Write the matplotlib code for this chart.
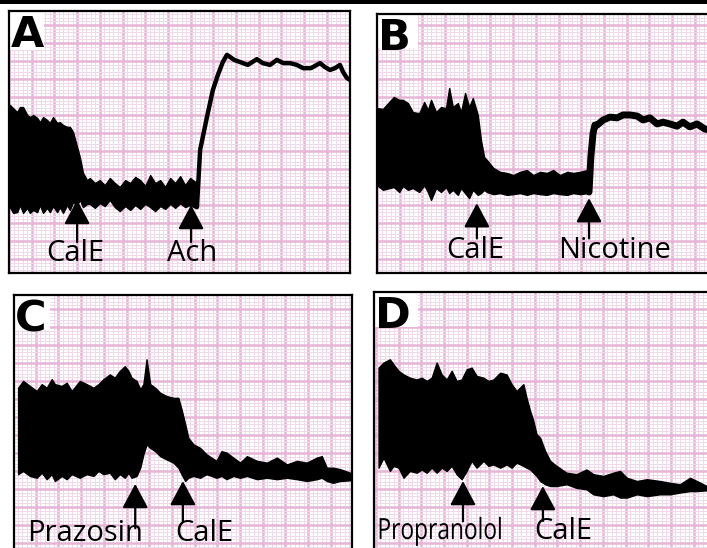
import matplotlib.pyplot as plt
from matplotlib.patches import Rectangle, PathPatch
from matplotlib.textpath import TextPath
from matplotlib.font_manager import FontProperties
from matplotlib.transforms import Affine2D
import numpy as np

# all trace values are in chart-paper millimetres (1 small square)

# panel A: CalE then acetylcholine
a_x = [0.2, 0.9, 1.8, 2.4, 3.1, 4.0, 4.6, 5.3, 6.2, 6.8, 7.5, 8.4, 9.0, 9.7, 10.6,
       11.2, 11.9, 12.8, 13.4, 14.1, 15.0, 15.6, 16.3, 17.2, 17.8, 18.9, 20.0, 21.1,
       22.2, 23.3, 24.4, 25.6, 26.7, 27.8, 28.9, 30.0, 31.1, 32.2, 33.3, 34.4, 35.5,
       36.6, 37.7, 38.8, 39.9, 41.0, 41.4]
a_top = [46.7, 45.8, 44.7, 46.1, 46.1, 43.9, 43.3, 43.9, 43.1, 41.9, 43.3, 42.5, 41.7,
         43.3, 41.7, 41.9, 41.1, 40.6, 40.6, 39.2, 35.0, 32.2, 27.8, 25.8, 26.4, 25.0,
         25.8, 24.4, 26.4, 25.0, 23.9, 25.8, 25.0, 26.7, 25.8, 24.2, 27.2, 25.0, 25.8,
         23.9, 26.4, 25.0, 26.9, 24.4, 26.4, 25.3, 25.8]
a_bot = [18.3, 16.7, 16.9, 18.9, 16.7, 18.1, 16.7, 17.5, 16.9, 18.9, 16.7, 18.1, 16.9,
         18.6, 16.9, 18.3, 16.7, 18.9, 17.5, 19.7, 18.9, 20.3, 18.3, 19.2, 19.2, 18.1,
         19.4, 18.6, 20.3, 18.3, 17.2, 18.6, 17.5, 18.9, 17.8, 19.2, 18.3, 17.2, 18.6,
         17.8, 19.2, 18.1, 19.4, 18.3, 18.9, 18.1, 18.9]
a_resp_x = [41.4, 42.1, 43.6, 44.9, 46.0, 47.1, 48.0, 48.7, 49.6, 50.9, 52.6, 54.6, 55.9,
            57.5, 59.0, 60.4, 61.9, 63.4, 64.8, 66.5, 68.5, 69.6, 70.7, 71.8, 72.9, 73.6,
            74.4, 75.1]
a_resp_y = [18.3, 34.2, 43.3, 50.8, 55.0, 58.6, 60.6, 60.0, 59.2, 58.6, 57.8, 59.4, 58.3,
            57.8, 59.2, 58.3, 58.3, 57.8, 56.9, 56.9, 58.3, 57.2, 56.4, 56.9, 57.8, 55.8,
            54.2, 53.6]
a_events = [15.0, 40.1]
a_names = ['CalE', 'Ach']

# panel B: CalE then nicotine
b_x = [0.0, 1.3, 3.7, 4.9, 5.7, 6.8, 7.9, 9.3, 10.4, 11.2, 11.9, 13.0, 14.1, 15.2, 15.9,
       16.7, 17.8, 18.5, 19.4, 20.3, 21.1, 22.2, 22.9, 23.6, 24.2, 25.6, 27.1, 28.6,
       30.0, 31.5, 33.0, 34.4, 35.9, 37.4, 38.8, 40.3, 41.9, 43.2, 44.7, 46.3, 46.7]
b_top = [45.8, 45.6, 48.9, 48.1, 48.1, 47.2, 44.7, 44.4, 47.5, 45.3, 48.1, 44.7, 46.1,
         45.8, 51.4, 46.1, 47.2, 44.7, 50.0, 46.1, 48.6, 43.9, 36.9, 32.2, 31.4, 29.2,
         28.1, 27.8, 27.2, 28.1, 28.6, 27.2, 28.1, 27.8, 28.6, 27.2, 28.1, 27.8, 28.1,
         28.6, 29.2]
b_bot = [24.4, 23.1, 23.9, 22.5, 24.2, 23.1, 23.6, 22.5, 24.4, 22.5, 20.3, 23.6, 22.5,
         23.9, 22.2, 23.1, 21.7, 23.6, 22.2, 20.8, 23.1, 21.7, 22.2, 23.1, 22.5, 21.9,
         22.2, 21.7, 21.9, 22.2, 21.7, 22.2, 21.9, 21.7, 22.2, 21.9, 21.7, 22.2, 21.9,
         22.2, 22.5]
b_resp_x = [46.7, 47.1, 47.6, 48.0, 48.5, 49.8, 51.3, 52.9, 54.2, 55.7, 57.3, 58.6, 60.1,
            61.7, 63.0, 64.5, 66.1, 67.4, 68.9, 70.5, 72.2, 73.3]
b_resp_y = [22.5, 32.2, 38.9, 41.1, 41.1, 42.5, 43.3, 43.1, 43.9, 43.9, 43.6, 42.5, 43.1,
            41.4, 41.9, 41.4, 40.8, 41.9, 40.6, 41.4, 40.0, 39.7]
b_events = [22.0, 46.7]
b_names = ['CalE', 'Nicotine']

# panel C: prazosin then CalE
c_x = [0.9, 2.0, 3.5, 5.0, 6.1, 7.2, 8.3, 9.0, 10.5, 11.6, 12.7, 14.5, 16.0, 17.5, 18.6,
       19.7, 21.1, 22.2, 23.3, 24.4, 25.2, 25.9, 27.0, 27.8, 28.5, 29.2, 30.0, 31.1,
       32.2, 33.6, 35.1, 36.2, 36.9, 37.7, 38.4, 39.5, 41.0, 42.4, 44.6, 45.7, 46.8,
       48.3, 49.8, 51.3, 53.5, 55.7, 57.9, 60.1, 62.3, 64.5, 66.7, 67.8, 68.9, 70.3,
       71.8, 74.0]
c_top = [45.9, 47.8, 46.4, 45.0, 46.9, 45.9, 48.3, 46.9, 46.4, 47.3, 45.0, 47.8, 46.9,
         45.9, 46.9, 48.3, 49.6, 48.7, 50.6, 51.9, 50.6, 48.7, 47.8, 45.5, 46.9, 53.8,
         46.9, 45.9, 44.5, 43.6, 43.1, 43.1, 39.9, 35.8, 32.0, 30.2, 29.2, 27.4, 25.6,
         28.3, 27.9, 26.5, 25.1, 26.9, 25.6, 25.1, 26.5, 24.6, 25.6, 25.1, 26.5, 26.9,
         23.7, 23.7, 23.3, 22.3]
c_bot = [21.9, 22.8, 21.4, 20.9, 22.3, 20.5, 21.9, 20.0, 21.4, 20.5, 21.9, 20.9, 21.9,
         21.4, 22.8, 21.9, 22.3, 20.5, 21.9, 20.9, 22.3, 20.9, 21.4, 23.7, 27.4, 30.2,
         29.2, 28.3, 26.9, 26.0, 25.1, 23.7, 21.9, 20.0, 20.9, 21.4, 20.9, 21.9, 20.9,
         21.4, 20.5, 21.4, 20.9, 21.4, 20.5, 20.9, 20.5, 20.9, 20.5, 20.0, 20.5, 20.9,
         20.0, 19.5, 20.0, 20.2]
c_events = [26.7, 37.2]
c_names = ['Prazosin', 'CalE']

# panel D: propranolol then CalE
d_x = [1.0, 2.1, 3.5, 4.3, 5.4, 6.5, 7.9, 9.4, 10.5, 11.6, 12.7, 13.8, 14.9, 16.0, 17.1,
       18.2, 19.3, 20.4, 21.5, 22.6, 24.1, 25.2, 26.3, 27.8, 29.2, 30.3, 31.4, 32.9,
       33.6, 34.4, 35.1, 35.8, 36.6, 37.7, 38.8, 40.2, 42.4, 44.6, 46.8, 48.3, 50.5,
       52.7, 54.2, 55.7, 57.9, 60.1, 63.0, 65.2, 67.4, 69.6, 71.1, 73.3]
d_top = [51.5, 52.9, 53.8, 52.4, 50.6, 49.6, 48.7, 48.2, 48.7, 47.8, 48.7, 52.9, 49.6,
         48.2, 50.6, 47.8, 48.2, 51.0, 51.5, 49.2, 48.7, 47.8, 48.2, 50.1, 49.6, 46.9,
         45.0, 46.9, 43.1, 39.4, 36.7, 33.0, 32.0, 28.3, 25.6, 24.2, 22.3, 21.9, 23.2,
         21.9, 21.4, 22.3, 22.8, 20.9, 20.0, 20.5, 20.0, 19.5, 19.1, 20.9, 20.0, 18.6]
d_bot = [23.7, 26.5, 22.8, 24.2, 23.7, 20.9, 22.8, 22.3, 23.2, 22.3, 23.7, 22.3, 23.7,
         22.8, 24.2, 21.9, 20.5, 22.8, 25.6, 23.7, 25.6, 24.2, 24.6, 23.7, 24.6, 23.7,
         25.1, 24.2, 23.7, 23.2, 22.3, 21.4, 20.0, 19.1, 18.6, 18.6, 19.1, 18.1, 17.7,
         16.3, 15.8, 16.3, 15.4, 15.4, 16.3, 15.8, 16.3, 16.3, 16.8, 17.2, 17.2, 17.4]
d_events = [19.6, 37.2]
d_names = ['Propranolol', 'CalE']

W, H = 707, 548
major_c = '#e6b5d7'
minor_c = '#f0d9ea'
font = ['Open Sans', 'DejaVu Sans']

panels = [
    # letter, pixel box (l, t, r, b), grid phase, traces, response, events, layout
    dict(letter='A', box=(9, 11, 350, 273), phase=(0.0, 3.9), lbox=(35, 39),
         x=a_x, top=a_top, bot=a_bot, rx=a_resp_x, ry=a_resp_y, rlw=3.2,
         ev=a_events, names=a_names, tips=[20.3, 18.9], tails=[8.6, 8.6],
         lx=[14.5, 40.3], ly=3.3),
    dict(letter='B', box=(377, 14, 712, 273), phase=(0.0, 3.9), lbox=(41, 34),
         x=b_x, top=b_top, bot=b_bot, rx=b_resp_x, ry=b_resp_y, rlw=5.0,
         ev=b_events, names=b_names, tips=[19.4, 20.8], tails=[9.6, 9.6],
         lx=[21.6, 52.4], ly=4.1),
    dict(letter='C', box=(14, 295, 352, 553), phase=(4.8, 2.8), lbox=(36, 35),
         x=c_x, top=c_top, bot=c_bot, rx=None, ry=None, rlw=0,
         ev=c_events, names=c_names, tips=[19.2, 20.0], tails=[6.9, 8.8],
         lx=[15.6, 41.9], ly=3.3),
    dict(letter='D', box=(374, 292, 712, 553), phase=(0.4, 2.8), lbox=(44, 35),
         x=d_x, top=d_top, bot=d_bot, rx=None, ry=None, rlw=0,
         ev=d_events, names=d_names, tips=[20.0, 18.6], tails=[8.8, 8.9],
         lx=[14.1, 41.6], ly=3.9),
]

fig = plt.figure(figsize=(W / 100, H / 100), dpi=100)
fig.add_artist(Rectangle((0, 1 - 4 / H), 1, 4 / H, transform=fig.transFigure,
                         color='black', lw=0))

for p in panels:
    l, t, r, b = p['box']
    ax = fig.add_axes([l / W, (H - b) / H, (r - l) / W, (b - t) / H])
    xmax = (r - l) / 4.54
    ymax = (b - t) / 3.6
    ax.set_xlim(0, xmax)
    ax.set_ylim(0, ymax)

    # chart paper
    gx, gy = p['phase']
    ax.set_xticks(np.arange(gx % 5, xmax, 5))
    ax.set_yticks(np.arange(gy % 5, ymax, 5))
    ax.set_xticks(np.arange(gx % 1, xmax, 1), minor=True)
    ax.set_yticks(np.arange(gy % 1, ymax, 1), minor=True)
    ax.grid(which='minor', color=minor_c, lw=0.7)
    ax.grid(which='major', color=major_c, lw=1.8)
    ax.set_axisbelow(True)
    ax.tick_params(which='both', length=0, labelbottom=False, labelleft=False)
    for s in ax.spines.values():
        s.set_linewidth(1.6)
        s.set_color('black')

    # white patch behind panel letter
    bw, bh = p['lbox']
    ax.add_patch(Rectangle((0, 1), bw / (r - l), -bh / (b - t), transform=ax.transAxes,
                           facecolor='white', edgecolor='none', zorder=1.5))
    ax.text(0.004, 1.0 - 3 / (b - t), p['letter'], transform=ax.transAxes,
            ha='left', va='top', fontsize=31, fontweight='bold',
            family='DejaVu Sans', zorder=4)

    # trace
    ax.fill_between(p['x'], p['bot'], p['top'], color='black', lw=1.0, zorder=2)
    if p['rx'] is not None:
        ax.plot(p['rx'], p['ry'], color='black', lw=p['rlw'],
                solid_joinstyle='round', solid_capstyle='round', zorder=2)

    # drug additions
    for ev, name, tip, tail, lx in zip(p['ev'], p['names'], p['tips'], p['tails'], p['lx']):
        ax.annotate('', xy=(ev, tip), xytext=(ev, tail),
                    arrowprops=dict(arrowstyle='-|>,head_length=0.75,head_width=0.4',
                                    color='black', lw=1.6, mutation_scale=20,
                                    shrinkA=0, shrinkB=0), zorder=3)
        if name == 'Propranolol':
            # the long name is squeezed sideways in the original
            tp = TextPath((0, 0), name, size=21 * 100 / 72,
                          prop=FontProperties(family='Open Sans'))
            w = tp.get_extents().width
            px, py = ax.transData.transform((lx, p['ly']))
            tr = Affine2D().translate(-w / 2, 0).scale(0.78, 1.0).translate(px, py)
            ax.add_artist(PathPatch(tp, transform=tr, facecolor='black',
                                    edgecolor='none', zorder=4))
        else:
            ax.text(lx, p['ly'], name, ha='center', va='baseline', fontsize=21,
                    family=font, color='black', zorder=4)

fig.savefig('out.png', dpi=100)
